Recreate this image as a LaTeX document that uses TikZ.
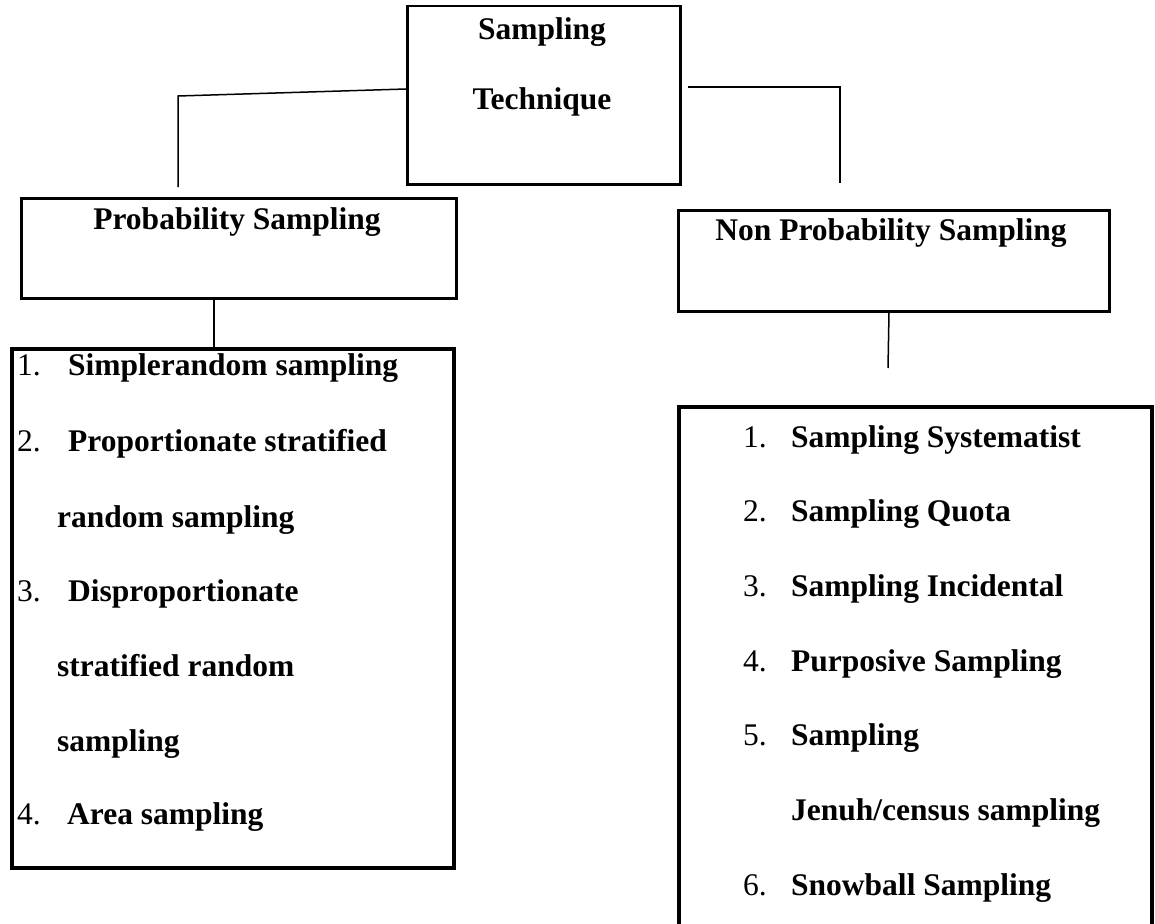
\documentclass[tikz,border=0pt]{standalone}
\usepackage{fontspec}
\setmainfont{Liberation Serif}
\begin{document}
\begin{tikzpicture}[x=1pt,y=-1pt,
  box/.style={draw, line width=2.5pt, inner sep=0pt, anchor=north west},
  listframe/.style={draw, line width=4pt, inner sep=0pt, anchor=north west},
  link/.style={line width=1.5pt},
  heading/.style={font=\fontsize{31.5}{37}\selectfont\bfseries, anchor=base, inner sep=0pt},
  num/.style={font=\fontsize{31.5}{37}\selectfont, anchor=base west, inner sep=0pt},
  entry/.style={font=\fontsize{31.5}{37}\selectfont\bfseries, anchor=base west, inner sep=0pt}]
\useasboundingbox (0,0) rectangle (1155,923);
\clip (0,0) rectangle (1155,923);

% root box
\node[box, minimum width=273, minimum height=178] (top) at (406,5) {};
\node[heading] (topa) at (542,40) {Sampling};
\node[heading] (topb) at (542,110) {Technique};

% second level boxes
\node[box, minimum width=435, minimum height=100] (prob) at (20,197) {};
\node[heading] (probt) at (237,229) {Probability Sampling};
\node[box, minimum width=431, minimum height=101] (nprob) at (677,209) {};
\node[heading] (nprobt) at (891,240) {Non Probability Sampling};

% list boxes
\node[listframe, minimum width=442, minimum height=519] (plist) at (10,347) {};
\node[listframe, line width=3.5pt, minimum width=473, minimum height=560] (nlist) at (677,405) {};

% connectors
\coordinate (lcorner) at (178,96);
\coordinate (lend) at (178,187);
\coordinate (rcorner) at (840,87);
\coordinate (rend) at (840,183);
\coordinate (pl) at (214,300);
\coordinate (nl) at (889,312);
\coordinate (nend) at (888,368);
\draw[link] (top.west |- 0,89) -- (lcorner) -- (lend);
\draw[link] ([xshift=6pt]top.east |- rcorner) -- (rcorner) -- (rend);
\draw[link] (prob.south -| pl) -- (plist.north -| pl);
\draw[link] (nprob.south -| nl) -- (nend);

% probability sampling items
\node[num]   (p1n) at (17,375) {1.};
\node[entry] (p1)  at (68,375) {Simplerandom sampling};
\node[num]   (p2n) at (17,451) {2.};
\node[entry] (p2)  at (68,451) {Proportionate stratified};
\node[entry] (p2b) at (57,527) {random sampling};
\node[num]   (p3n) at (17,601) {3.};
\node[entry] (p3)  at (68,601) {Disproportionate};
\node[entry] (p3b) at (57,676) {stratified random};
\node[entry] (p3c) at (57,751) {sampling};
\node[num]   (p4n) at (17,824) {4.};
\node[entry] (p4)  at (67,824) {Area sampling};

% non probability sampling items
\node[num]   (n1n) at (743,447) {1.};
\node[entry] (n1)  at (791,447) {Sampling Systematist};
\node[num]   (n2n) at (743,521) {2.};
\node[entry] (n2)  at (791,521) {Sampling Quota};
\node[num]   (n3n) at (743,596) {3.};
\node[entry] (n3)  at (791,596) {Sampling Incidental};
\node[num]   (n4n) at (743,671) {4.};
\node[entry] (n4)  at (791,671) {Purposive Sampling};
\node[num]   (n5n) at (743,745) {5.};
\node[entry] (n5)  at (791,745) {Sampling};
\node[entry] (n5b) at (791,820) {Jenuh/census sampling};
\node[num]   (n6n) at (743,895) {6.};
\node[entry] (n6)  at (791,895) {Snowball Sampling};
\end{tikzpicture}
\end{document}
